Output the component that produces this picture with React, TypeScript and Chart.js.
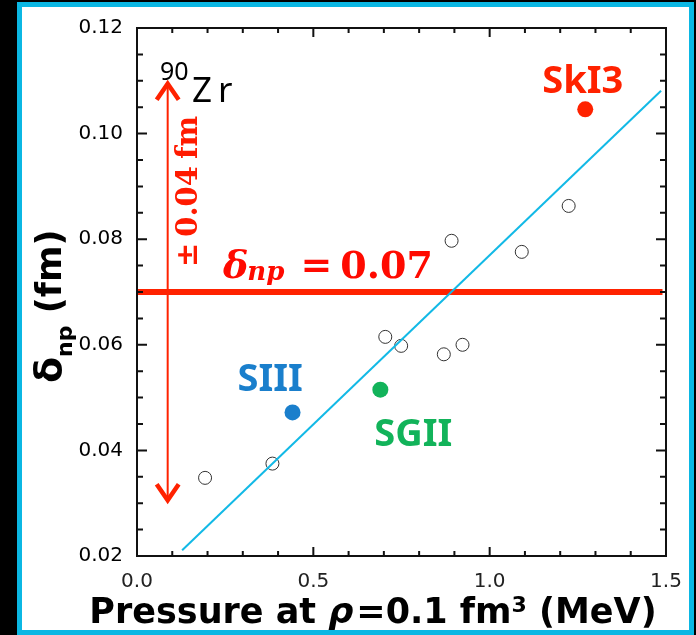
import React, { useEffect, useRef } from 'react';
import { Chart, registerables } from 'chart.js';

Chart.register(...registerables);

// ---- data ----
const otherX = [0.193, 0.384, 0.704, 0.749, 0.870, 0.923, 0.892, 1.091, 1.224];
const otherY = [0.0348, 0.0375, 0.0615, 0.0598, 0.0582, 0.0600, 0.0797, 0.0776, 0.0863];

const modelNames = ['SkI3', 'SIII', 'SGII'];
const modelX = [1.271, 0.441, 0.690];
const modelY = [0.1046, 0.0472, 0.0515];

const fitX = [0.128, 1.486];
const fitY = [0.0211, 0.1081];

const deltaNp = 0.07;
const deltaErr = 0.04;
const arrowXValue = 0.087;
const refLineX = [0, 1.49];

const xMajorTicks = [0.0, 0.5, 1.0, 1.5];
const xTickLabels = ['0.0', '0.5', '1.0', '1.5'];
const yMajorTicks = [0.02, 0.04, 0.06, 0.08, 0.10, 0.12];
const yTickLabels = ['0.02', '0.04', '0.06', '0.08', '0.10', '0.12'];

// ---- styles ----
const modelColors = ['#ff2200', '#1a7fcc', '#12b35a'];
const modelLabelOffsets = [[-43, -16], [-55, -21], [-6, 56]];
const RED = '#ff2200';
const CYAN = '#12b9e6';

function majorIndex(list: number[], v: number) {
  return list.findIndex((m) => Math.abs(m - v) < 1e-6);
}

type Run = { text: string; font: string; dy?: number; gap?: number };

function drawRuns(ctx: CanvasRenderingContext2D, runs: Run[], x: number, y: number) {
  let cx = x;
  for (const r of runs) {
    ctx.font = r.font;
    ctx.fillText(r.text, cx, y + (r.dy || 0));
    cx += ctx.measureText(r.text).width + (r.gap || 0);
  }
  return cx - x;
}
function runsWidth(ctx: CanvasRenderingContext2D, runs: Run[]) {
  let w = 0;
  for (const r of runs) {
    ctx.font = r.font;
    w += ctx.measureText(r.text).width + (r.gap || 0);
  }
  return w;
}

const decor = {
  id: 'decor',
  beforeDraw(chart: any) {
    const ctx = chart.ctx as CanvasRenderingContext2D;
    ctx.save();
    ctx.fillStyle = '#000';
    ctx.fillRect(0, 0, chart.width, chart.height);
    ctx.fillStyle = '#0bb7e3';
    ctx.fillRect(17, 2, 677, 640);
    ctx.fillStyle = '#fff';
    ctx.fillRect(22, 7, 667, 623);
    ctx.restore();
  },
  afterDatasetsDraw(chart: any) {
    const ctx = chart.ctx as CanvasRenderingContext2D;
    const xs = chart.scales.x;
    const ys = chart.scales.y;
    const { left, right, top, bottom } = chart.chartArea;
    ctx.save();

    // vertical double arrow
    const ax = xs.getPixelForValue(arrowXValue);
    const ayTop = ys.getPixelForValue(deltaNp + deltaErr);
    const ayBot = ys.getPixelForValue(deltaNp - deltaErr);
    ctx.strokeStyle = RED;
    ctx.lineWidth = 2;
    ctx.beginPath();
    ctx.moveTo(ax, ayTop + 2);
    ctx.lineTo(ax, ayBot - 2);
    ctx.stroke();
    ctx.lineWidth = 4.5;
    ctx.lineJoin = 'miter';
    ctx.beginPath();
    ctx.moveTo(ax - 11, ayTop + 19);
    ctx.lineTo(ax, ayTop + 3);
    ctx.lineTo(ax + 11, ayTop + 19);
    ctx.stroke();
    ctx.beginPath();
    ctx.moveTo(ax - 11, ayBot - 19);
    ctx.lineTo(ax, ayBot - 3);
    ctx.lineTo(ax + 11, ayBot - 19);
    ctx.stroke();

    // frame
    ctx.strokeStyle = '#111';
    ctx.lineWidth = 2;
    ctx.strokeRect(left, top, right - left, bottom - top);

    // inward ticks
    ctx.lineWidth = 2;
    ctx.beginPath();
    xs.ticks.forEach((t: any) => {
      const px = xs.getPixelForValue(t.value);
      if (px <= left + 1 || px >= right - 1) return;
      const major = majorIndex(xMajorTicks, t.value) >= 0;
      const len = major ? 9 : 5;
      ctx.moveTo(px, bottom);
      ctx.lineTo(px, bottom - len);
      ctx.moveTo(px, top);
      ctx.lineTo(px, top + len);
    });
    ys.ticks.forEach((t: any) => {
      const py = ys.getPixelForValue(t.value);
      if (py <= top + 1 || py >= bottom - 1) return;
      const major = majorIndex(yMajorTicks, t.value) >= 0;
      const len = major ? 10 : 6;
      ctx.moveTo(left, py);
      ctx.lineTo(left + len, py);
      ctx.moveTo(right, py);
      ctx.lineTo(right - len, py);
    });
    ctx.stroke();

    // model labels
    ctx.textBaseline = 'alphabetic';
    ctx.textAlign = 'left';
    modelNames.forEach((name, i) => {
      const px = xs.getPixelForValue(modelX[i]);
      const py = ys.getPixelForValue(modelY[i]);
      ctx.fillStyle = modelColors[i];
      ctx.font = 'bold 38px "Noto Sans"';
      ctx.fillText(name, px + modelLabelOffsets[i][0], py + modelLabelOffsets[i][1]);
    });

    // 90Zr
    ctx.fillStyle = '#000';
    ctx.font = '25px "Noto Sans"';
    ctx.fillText('90', left + 23, top + 52);
    ctx.font = '35px "Noto Sans"';
    ctx.fillText('Z', left + 55, top + 74);
    ctx.fillText('r', left + 81, top + 74);

    // delta_np = 0.07
    const lineY = ys.getPixelForValue(deltaNp);
    ctx.fillStyle = '#ff0a00';
    drawRuns(
      ctx,
      [
        { text: 'δ', font: 'italic bold 38px "DejaVu Serif"', gap: -1 },
        { text: 'np', font: 'italic bold 26px "DejaVu Serif"', dy: 2, gap: 16 },
        { text: '=', font: 'bold 38px "DejaVu Serif"', gap: 8 },
        { text: '0.07', font: 'bold 38px "DejaVu Serif"' },
      ],
      left + 86,
      lineY - 14
    );

    // ± 0.04 fm (rotated)
    ctx.save();
    ctx.translate(ax + 29, lineY - 25);
    ctx.rotate(-Math.PI / 2);
    ctx.fillStyle = '#ff1a00';
    drawRuns(
      ctx,
      [
        { text: '±', font: 'bold 29px "DejaVu Serif"', gap: 6 },
        { text: '0.04', font: 'bold 29px "DejaVu Serif"', gap: 7 },
        { text: 'fm', font: 'bold 29px "DejaVu Serif"' },
      ],
      0,
      0
    );
    ctx.restore();

    // x title
    ctx.fillStyle = '#000';
    const xRuns: Run[] = [
      { text: 'Pressure at ', font: 'bold 35px "DejaVu Sans"' },
      { text: 'ρ', font: 'italic bold 35px "DejaVu Sans"', gap: 3 },
      { text: '=0.1 fm', font: 'bold 35px "DejaVu Sans"' },
      { text: '3', font: 'bold 22px "DejaVu Sans"', dy: -11 },
      { text: ' (MeV)', font: 'bold 35px "DejaVu Sans"' },
    ];
    const xw = runsWidth(ctx, xRuns);
    drawRuns(ctx, xRuns, 373 - xw / 2, 623);

    // y title
    ctx.save();
    ctx.translate(61, 383);
    ctx.rotate(-Math.PI / 2);
    drawRuns(
      ctx,
      [
        { text: 'δ', font: 'bold 38px "DejaVu Sans"' },
        { text: 'np', font: 'bold 22px "DejaVu Sans"', dy: 11 },
        { text: ' (fm)', font: 'bold 35px "DejaVu Sans"' },
      ],
      0,
      0
    );
    ctx.restore();

    ctx.restore();
  },
};

export default function App() {
  const ref = useRef<HTMLCanvasElement>(null);
  useEffect(() => {
    if (!ref.current) return;
    const chart = new Chart(ref.current, {
      type: 'scatter',
      data: {
        datasets: [
          {
            label: 'models',
            data: modelX.map((x, i) => ({ x, y: modelY[i] })),
            pointRadius: 8,
            pointBackgroundColor: modelColors,
            pointBorderColor: modelColors,
            borderWidth: 0,
            order: 0,
          },
          {
            label: 'fit',
            data: fitX.map((x, i) => ({ x, y: fitY[i] })),
            showLine: true,
            borderColor: CYAN,
            borderWidth: 2,
            pointRadius: 0,
            order: 1,
          },
          {
            label: 'others',
            data: otherX.map((x, i) => ({ x, y: otherY[i] })),
            pointRadius: 6.5,
            pointBackgroundColor: 'rgba(0,0,0,0)',
            pointBorderColor: '#333',
            pointBorderWidth: 1,
            order: 2,
          },
          {
            label: 'delta',
            data: refLineX.map((x) => ({ x, y: deltaNp })),
            showLine: true,
            borderColor: RED,
            borderWidth: 6,
            pointRadius: 0,
            order: 3,
          },
        ],
      },
      options: {
        responsive: false,
        animation: false,
        devicePixelRatio: 1,
        layout: { padding: { left: 0, right: 30, top: 28, bottom: 0 } },
        plugins: { legend: { display: false }, tooltip: { enabled: false } },
        scales: {
          x: {
            type: 'linear',
            min: 0,
            max: 1.5,
            afterFit: (s: any) => {
              s.height = 79;
            },
            border: { display: false },
            grid: { display: false, drawTicks: false },
            ticks: {
              stepSize: 0.1,
              autoSkip: false,
              maxRotation: 0,
              padding: 14,
              color: '#222',
              font: { family: 'DejaVu Sans', size: 20 },
              callback: (v: any) => {
                const i = majorIndex(xMajorTicks, Number(v));
                return i >= 0 ? xTickLabels[i] : '';
              },
            },
          },
          y: {
            type: 'linear',
            min: 0.02,
            max: 0.12,
            afterFit: (s: any) => {
              s.width = 137;
            },
            border: { display: false },
            grid: { display: false, drawTicks: false },
            ticks: {
              stepSize: 0.005,
              autoSkip: false,
              padding: 14,
              color: '#000',
              font: { family: 'DejaVu Sans', size: 20 },
              callback: (v: any) => {
                const i = majorIndex(yMajorTicks, Number(v));
                return i >= 0 ? yTickLabels[i] : '';
              },
            },
          },
        },
      },
      plugins: [decor],
    });
    return () => chart.destroy();
  }, []);
  return (
    <div style={{ position: 'fixed', left: 0, top: 0, width: 696, height: 635, background: '#000' }}>
      <canvas ref={ref} width={696} height={635} style={{ width: 696, height: 635, display: 'block' }} />
    </div>
  );
}
